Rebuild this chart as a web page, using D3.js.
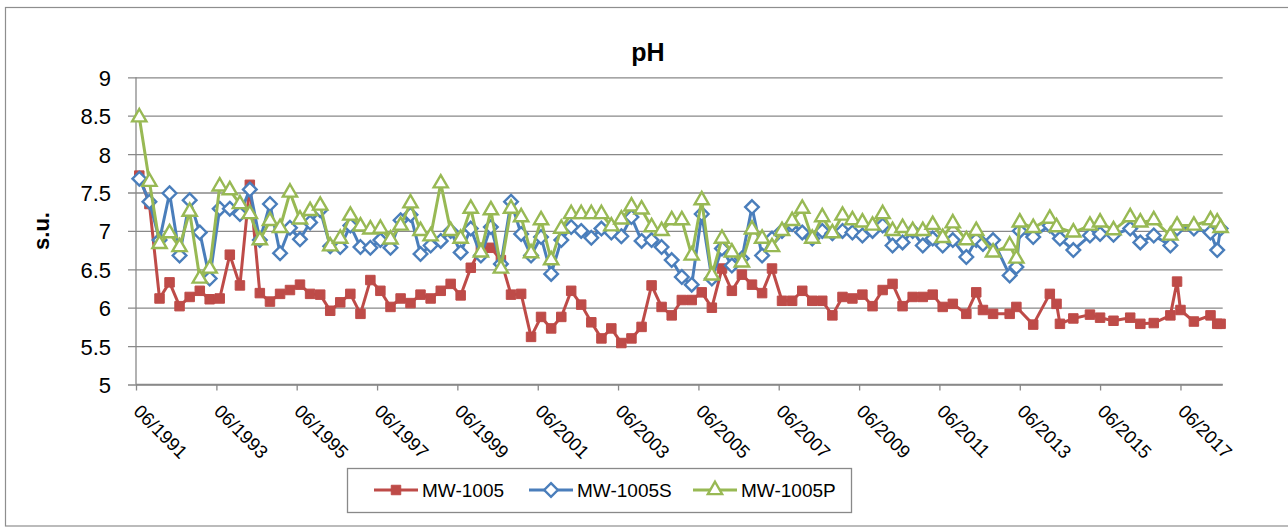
<!DOCTYPE html>
<html>
<head>
<meta charset="utf-8">
<script src="https://cdn.jsdelivr.net/npm/d3@7/dist/d3.min.js"></script>
<style>
  html, body { margin: 0; padding: 0; background: #fff; }
  svg { display: block; }
  text { font-family: "Liberation Sans", Arial, sans-serif; fill: #000; }
</style>
</head>
<body>
<svg id="chart" width="1288" height="527"></svg>
<script>
// Sampling dates (year-month) shared by the three wells
const dates = [
  "1991-07","1991-10","1992-01","1992-04","1992-07","1992-10",
  "1993-01","1993-04","1993-07","1993-10",
  "1994-01","1994-04","1994-07","1994-10",
  "1995-01","1995-04","1995-07","1995-10",
  "1996-01","1996-04","1996-07","1996-10",
  "1997-01","1997-04","1997-07","1997-10",
  "1998-01","1998-04","1998-07","1998-10",
  "1999-01","1999-04","1999-07","1999-10",
  "2000-01","2000-04","2000-07","2000-10",
  "2001-01","2001-04","2001-07","2001-10",
  "2002-01","2002-04","2002-07","2002-10",
  "2003-01","2003-04","2003-07","2003-10",
  "2004-01","2004-04","2004-07","2004-10",
  "2005-01","2005-04","2005-07","2005-10",
  "2006-01","2006-04","2006-07","2006-10",
  "2007-01","2007-04","2007-07","2007-10",
  "2008-01","2008-04","2008-07","2008-10",
  "2009-01","2009-04","2009-07","2009-10",
  "2010-01","2010-04","2010-07","2010-10",
  "2011-01","2011-04","2011-07","2011-10",
  "2012-02","2012-05","2012-07","2012-10",
  "2013-03","2013-05","2013-06","2013-10",
  "2014-03","2014-05","2014-06","2014-10",
  "2015-03","2015-06","2015-10",
  "2016-03","2016-06","2016-10",
  "2017-03","2017-05","2017-06","2017-10",
  "2018-03","2018-05","2018-06"
];

// pH (s.u.) per well; null = not sampled on that date
const mw1005 = [
  7.72, 7.35, 6.12, 6.33, 6.02, 6.14,
  6.22, 6.11, 6.12, 6.69,
  6.29, 7.60, 6.19, 6.08,
  6.18, 6.23, 6.30, 6.18,
  6.17, 5.96, 6.07, 6.18,
  5.92, 6.36, 6.22, 6.01,
  6.12, 6.06, 6.17, 6.12,
  6.22, 6.31, 6.16, 6.52,
  6.78, 6.78, 6.62, 6.17,
  6.18, 5.62, 5.88, 5.73,
  5.88, 6.22, 6.04, 5.81,
  5.60, 5.73, 5.54, 5.60,
  5.75, 6.29, 6.01, 5.90,
  6.10, 6.10, 6.20, 6.00,
  6.51, 6.22, 6.43, 6.30,
  6.19, 6.51, 6.09, 6.09,
  6.22, 6.09, 6.09, 5.90,
  6.14, 6.12, 6.17, 6.02,
  6.23, 6.31, 6.02, 6.14,
  6.14, 6.17, 6.01, 6.05,
  5.92, 6.20, 5.97, 5.92,
  5.92, 6.01, null, 5.78,
  6.18, 6.05, 5.79, 5.86,
  5.91, 5.87, 5.83,
  5.87, 5.79, 5.80,
  5.90, 6.34, 5.97, 5.82,
  5.90, 5.79, 5.79
];

const mw1005S = [
  7.68, 7.38, 6.88, 7.49, 6.68, 7.40,
  6.98, 6.38, 7.29, 7.29,
  7.22, 7.54, 6.88, 7.35,
  6.71, 7.04, 6.89, 7.11,
  7.27, 6.80, 6.79, 7.07,
  6.79, 6.78, 6.88, 6.78,
  7.14, 7.21, 6.70, 6.81,
  6.87, 7.00, 6.72, 7.03,
  6.68, 7.05, 6.57, 7.38,
  6.96, 6.68, 6.92, 6.44,
  6.88, 7.05, 7.00, 6.91,
  7.03, 6.98, 6.93, 7.18,
  6.87, 6.88, 6.79, 6.62,
  6.40, 6.30, 7.22, 6.38,
  6.77, 6.55, 6.64, 7.31,
  6.68, 6.90, 7.00, 7.09,
  6.98, 6.90, 7.00, 6.97,
  7.00, 6.98, 6.94, 7.00,
  7.07, 6.81, 6.85, 7.00,
  6.81, 6.90, 6.81, 6.88,
  6.66, 6.88, 6.83, 6.88,
  6.42, 6.53, 7.00, 6.92,
  7.07, 7.00, 6.90, 6.75,
  6.94, 6.96, 6.95,
  7.03, 6.85, 6.94,
  6.81, 7.03, null, 7.03,
  6.98, 6.75, 7.03
];

const mw1005P = [
  8.48, 7.64, 6.83, 6.97, 6.79, 7.25,
  6.38, 6.51, 7.58, 7.53,
  7.35, 7.22, 6.88, 7.13,
  7.04, 7.50, 7.15, 7.26,
  7.33, 6.80, 6.90, 7.20,
  7.06, 7.02, 7.03, 6.89,
  7.07, 7.36, 7.00, 6.93,
  7.62, 7.00, 6.90, 7.29,
  6.72, 7.27, 6.51, 7.29,
  7.18, 6.71, 7.14, 6.62,
  7.03, 7.22, 7.22, 7.22,
  7.22, 7.06, 7.15, 7.32,
  7.28, 7.05, 7.00, 7.14,
  7.14, 6.68, 7.40, 6.42,
  6.90, 6.72, 6.59, 7.02,
  6.90, 6.79, 7.00, 7.13,
  7.29, 6.90, 7.18, 6.97,
  7.20, 7.14, 7.11, 7.07,
  7.22, 7.00, 7.04, 7.00,
  7.00, 7.08, 6.91, 7.10,
  6.88, 7.00, null, 6.72,
  6.81, 6.64, 7.11, 7.04,
  7.16, 7.05, null, 6.98,
  7.07, 7.11, 7.01,
  7.18, 7.11, 7.14,
  6.94, 7.07, null, 7.07,
  7.14, 7.11, 7.04
];

const seriesNames = ["MW-1005", "MW-1005S", "MW-1005P"];
const xTickLabels = ["06/1991","06/1993","06/1995","06/1997","06/1999","06/2001","06/2003",
                     "06/2005","06/2007","06/2009","06/2011","06/2013","06/2015","06/2017"];
const yTicks = [5, 5.5, 6, 6.5, 7, 7.5, 8, 8.5, 9];
const xDomain = ["1991-06-01", "2018-06-20"];

const parseMonth = d3.timeParse("%Y-%m");
const parseDay = d3.timeParse("%Y-%m-%d");
const parseTick = d3.timeParse("%m/%Y");

const svg = d3.select("#chart");
const plot = { left: 136, right: 1222.7, top: 77.3, bottom: 384.5 };

const x = d3.scaleTime()
  .domain(xDomain.map(parseDay))
  .range([plot.left, plot.right]);
const y = d3.scaleLinear()
  .domain([5, 9])
  .range([plot.bottom, plot.top]);

const gridColor = "#898989";

// outer chart frame
svg.append("rect")
  .attr("x", 5.5).attr("y", 7.5)
  .attr("width", 1290).attr("height", 518.5)
  .attr("fill", "none").attr("stroke", "#8e8e8e").attr("stroke-width", 1.2);

// y axis with gridlines
const yAxis = d3.axisLeft(y)
  .tickValues(yTicks)
  .tickSize(plot.right - plot.left + 8)
  .tickPadding(17)
  .tickFormat(d3.format("~g"));
const gy = svg.append("g")
  .attr("transform", `translate(${plot.right},0)`)
  .call(yAxis);
gy.attr("font-family", null).attr("font-size", null);
gy.select(".domain").remove();
gy.selectAll(".tick line").attr("stroke", gridColor).attr("stroke-width", 1.3);
gy.selectAll(".tick text").attr("font-size", 22).attr("dy", "0.36em").style("fill", "#000");

svg.append("line")
  .attr("x1", plot.left).attr("x2", plot.left)
  .attr("y1", plot.top).attr("y2", plot.bottom)
  .attr("stroke", gridColor).attr("stroke-width", 1.3);

// x axis
const xAxis = d3.axisBottom(x)
  .tickValues(xTickLabels.map(parseTick))
  .tickSize(6)
  .tickFormat(d3.timeFormat("%m/%Y"));
const gx = svg.append("g")
  .attr("transform", `translate(0,${plot.bottom})`)
  .call(xAxis);
gx.attr("font-family", null).attr("font-size", null);
gx.select(".domain").attr("stroke", gridColor).attr("stroke-width", 1.3)
  .attr("d", `M${plot.left},0H${plot.right}`);
gx.selectAll(".tick line").attr("stroke", gridColor).attr("stroke-width", 1.3);
gx.selectAll(".tick text")
  .attr("font-size", 18.5)
  .attr("text-anchor", "start")
  .attr("dy", null)
  .attr("y", 0)
  .attr("transform", "translate(-4,28) rotate(45)")
  .style("fill", "#000");

// titles
svg.append("text")
  .attr("x", 648).attr("y", 61)
  .attr("text-anchor", "middle")
  .attr("font-size", 25).attr("font-weight", "bold")
  .text("pH");
svg.append("text")
  .attr("transform", `translate(49,231) rotate(-90)`)
  .attr("text-anchor", "middle")
  .attr("font-size", 22).attr("font-weight", "bold")
  .text("s.u.");

// series: filled squares, hollow diamonds, hollow triangles
const colors = ["#BE4B48", "#4A7EBB", "#98B954"];
const valueSets = [mw1005, mw1005S, mw1005P];
const symbols = [d3.symbolSquare, d3.symbolDiamond2, d3.symbolTriangle];
const symbolSizes = [90, 118, 88];

const line = d3.line()
  .x(d => x(d.date))
  .y(d => y(d.value));

valueSets.forEach((vals, i) => {
  const pts = dates.map((s, k) => ({ date: parseMonth(s), value: vals[k] }))
                   .filter(d => d.value !== null);
  const g = svg.append("g");
  g.append("path")
    .datum(pts)
    .attr("d", line)
    .attr("fill", "none")
    .attr("stroke", colors[i])
    .attr("stroke-width", 3)
    .attr("stroke-linejoin", "round");
  g.selectAll("path.mk")
    .data(pts)
    .join("path")
    .attr("class", "mk")
    .attr("transform", d => `translate(${x(d.date)},${y(d.value)})`)
    .attr("d", d3.symbol().type(symbols[i]).size(symbolSizes[i]))
    .attr("fill", i === 0 ? colors[i] : "#fff")
    .attr("stroke", colors[i])
    .attr("stroke-width", i === 0 ? 1 : 2.4);
});

// legend
const legend = svg.append("g");
legend.append("rect")
  .attr("x", 347.5).attr("y", 468.5)
  .attr("width", 504).attr("height", 44)
  .attr("fill", "#fff").attr("stroke", gridColor).attr("stroke-width", 1.3);
const legendX = [374, 529, 693];
seriesNames.forEach((name, i) => {
  const lx = legendX[i], ly = 490;
  legend.append("line")
    .attr("x1", lx).attr("x2", lx + 44)
    .attr("y1", ly).attr("y2", ly)
    .attr("stroke", colors[i]).attr("stroke-width", 3);
  legend.append("path")
    .attr("transform", `translate(${lx + 22},${ly})`)
    .attr("d", d3.symbol().type(symbols[i]).size(symbolSizes[i]))
    .attr("fill", i === 0 ? colors[i] : "#fff")
    .attr("stroke", colors[i])
    .attr("stroke-width", i === 0 ? 1 : 2.4);
  legend.append("text")
    .attr("x", lx + 48).attr("y", ly + 7)
    .attr("font-size", 19)
    .text(name);
});
</script>
</body>
</html>
